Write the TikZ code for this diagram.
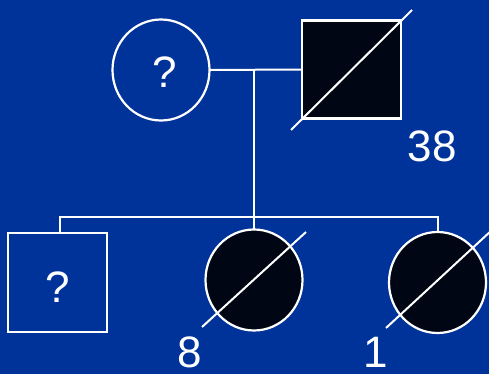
\documentclass[tikz,border=0pt]{standalone}
\usepackage{fontspec}
\setmainfont{Liberation Sans}
\definecolor{bgblue}{RGB}{0,51,153}
\definecolor{affect}{RGB}{0,6,20}
\tikzset{
  person/.style={draw=white, line width=2.2pt, inner sep=0pt, outer sep=0pt},
  femalebox/.style={person, circle, minimum width=97pt, minimum height=101pt, ellipse},
  malebox/.style={person, rectangle, minimum width=99pt, minimum height=98pt},
  affected/.style={fill=affect},
  lineage/.style={draw=white, line width=2pt},
  slash/.style={draw=white, line width=2pt},
  lbl/.style={text=white, font=\fontsize{44}{44}\selectfont, inner sep=0pt}
}
\usetikzlibrary{shapes.geometric}
\begin{document}
\begin{tikzpicture}[x=1pt,y=-1pt]
\fill[bgblue] (0,0) rectangle (489,374);
\useasboundingbox (0,0) rectangle (489,374);
% parents
\node[femalebox] (mother) at (161,70) {};
\node[lbl] (mq) at (165,72) {?};
\node[malebox, affected] (father) at (351.5,69.5) {};
\draw[slash] (291,130) -- (412,10);
\node[lbl] (fage) at (432,146) {38};
\coordinate (mj) at (254,69);
\draw[lineage] (mother.east) -- (father.west);
\coordinate (sj) at (254,217);
\draw[lineage] (mj) -- (sj);
% children
\node[malebox, minimum width=99pt, minimum height=99pt] (son) at (57.5,282.5) {};
\node[lbl] (sq) at (58,287) {?};
\node[femalebox, affected] (d1) at (254,280) {};
\draw[slash] (202,327) -- (306,232);
\node[lbl] (d1age) at (190,352) {8};
\node[femalebox, affected] (d2) at (437.5,282.5) {};
\draw[slash] (386,328) -- (492,230);
\node[lbl] (d2age) at (376,352) {1};
\coordinate (sl) at (60,217);
\coordinate (sr) at (438,217);
\draw[lineage] (son.north -| sl) -- (sl) -- (sr) -- (sr |- d2.north);
\draw[lineage] (sj) -- (d1.north);
\end{tikzpicture}
\end{document}
